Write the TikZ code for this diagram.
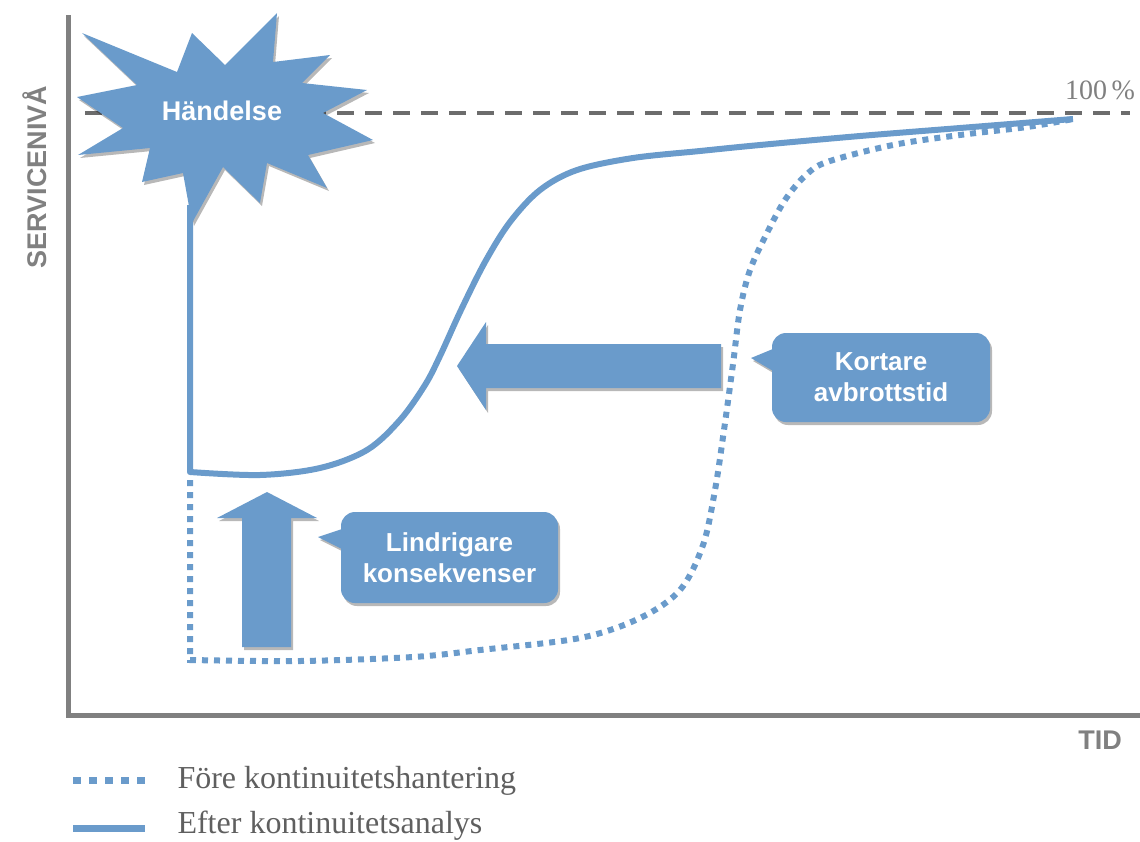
\documentclass[tikz,border=0pt]{standalone}
\usepackage{fontspec}
\setmainfont{Liberation Serif}
\setsansfont{Liberation Sans}
\usetikzlibrary{shadows}
\definecolor{cblue}{RGB}{106,155,203}
\definecolor{axgray}{RGB}{128,128,128}
\definecolor{dgray}{RGB}{108,108,108}
\definecolor{tgray}{RGB}{128,128,128}
\definecolor{lgray}{RGB}{95,95,95}
\begin{document}
\begin{tikzpicture}[x=1pt,y=-1pt,
  shapeshadow/.style={drop shadow={shadow xshift=2pt,shadow yshift=-3pt,opacity=0.28,fill=black}},
  blueshape/.style={fill=cblue,draw=none,shapeshadow},
  solidcurve/.style={draw=cblue,line width=6pt,line join=round},
  dotcurve/.style={draw=cblue,line width=6pt,dash pattern=on 6pt off 6pt},
  calltext/.style={text=white,font=\sffamily\bfseries\fontsize{26}{31}\selectfont,align=center},
  axislabel/.style={text=tgray,font=\sffamily\bfseries\fontsize{27}{30}\selectfont},
  legendtext/.style={anchor=base west,text=lgray,font=\fontsize{32}{35}\selectfont}
]
\useasboundingbox (0,0) rectangle (1140,841);

% axes
\draw[axgray,line width=5pt,line join=miter] (68,15) -- (68,715) -- (1140,715);

% 100% dashed line
\draw[dgray,line width=3.5pt,dash pattern=on 17pt off 11pt] (85,113) -- (1130,113);
\node[text=tgray,font=\fontsize{28}{30}\selectfont] (pct) at (1100,90) {100\,\%};

% axis labels
\node[axislabel,rotate=90] (yl) at (35,177) {SERVICENIVÅ};
\node[axislabel] (xl) at (1100,740) {TID};

% before curve (dotted)
\draw[dotcurve] (190,480) -- plot[smooth,tension=0.55] coordinates {
  (190,660) (300,661) (413,657) (480,650) (580,638) (640,618) (680,590)
  (703,545) (715,490) (724,430) (733,364) (740,310) (750,270) (767,233)
  (785,200) (805,176) (827,162) (893,145) (960,135) (1027,127) (1073,119)};

% after curve (solid)
\draw[solidcurve] (190,205) -- plot[smooth,tension=0.55] coordinates {
  (190,472) (260,475) (320,468) (367,450) (400,420) (425,385) (440,356)
  (461,310) (485,262) (510,222) (540,190) (577,170) (633,158) (700,151)
  (760,145) (860,136) (960,128) (1073,119)};

% starburst
\fill[blueshape] (82,33) -- (177,72) -- (192,33) -- (225,65) -- (277,13) -- (273,62)
  -- (330,55) -- (302,83) -- (367,90) -- (323,113) -- (373,140) -- (308,155)
  -- (327,188) -- (267,163) -- (260,203) -- (223,167) -- (192,223) -- (183,173)
  -- (142,182) -- (150,148) -- (78,155) -- (123,128) -- (77,97) -- (137,85) -- cycle;
\node[text=white,font=\sffamily\bfseries\fontsize{27}{30}\selectfont] (event) at (222,111) {Händelse};

% left block arrow
\fill[blueshape] (457,366) -- (486,322) -- (486,344) -- (721,344) -- (721,388)
  -- (486,388) -- (486,410) -- cycle;

% up block arrow
\fill[blueshape] (267,492) -- (317,518) -- (291,518) -- (291,647) -- (242,647)
  -- (242,518) -- (217,518) -- cycle;

% callout: Kortare avbrottstid
\fill[blueshape] (751,358) -- (785,344) -- (785,378) -- cycle;
\fill[blueshape,rounded corners=14pt] (772,333) rectangle (990,422);
\node[calltext] (kort) at (881,377.5) {Kortare\\avbrottstid};

% callout: Lindrigare konsekvenser
\fill[blueshape] (318,537) -- (354,525) -- (354,555) -- cycle;
\fill[blueshape,rounded corners=14pt] (341,512) rectangle (558,603);
\node[calltext] (lind) at (449.5,557.5) {Lindrigare\\konsekvenser};

% legend
\draw[draw=cblue,line width=7pt,dash pattern=on 8pt off 8pt] (73,780) -- (145,780);
\node[legendtext] (leg1) at (174,788) {Före kontinuitetshantering};
\draw[draw=cblue,line width=7pt] (73,828) -- (145,828);
\node[legendtext] (leg2) at (174,833) {Efter kontinuitetsanalys};
\end{tikzpicture}
\end{document}
